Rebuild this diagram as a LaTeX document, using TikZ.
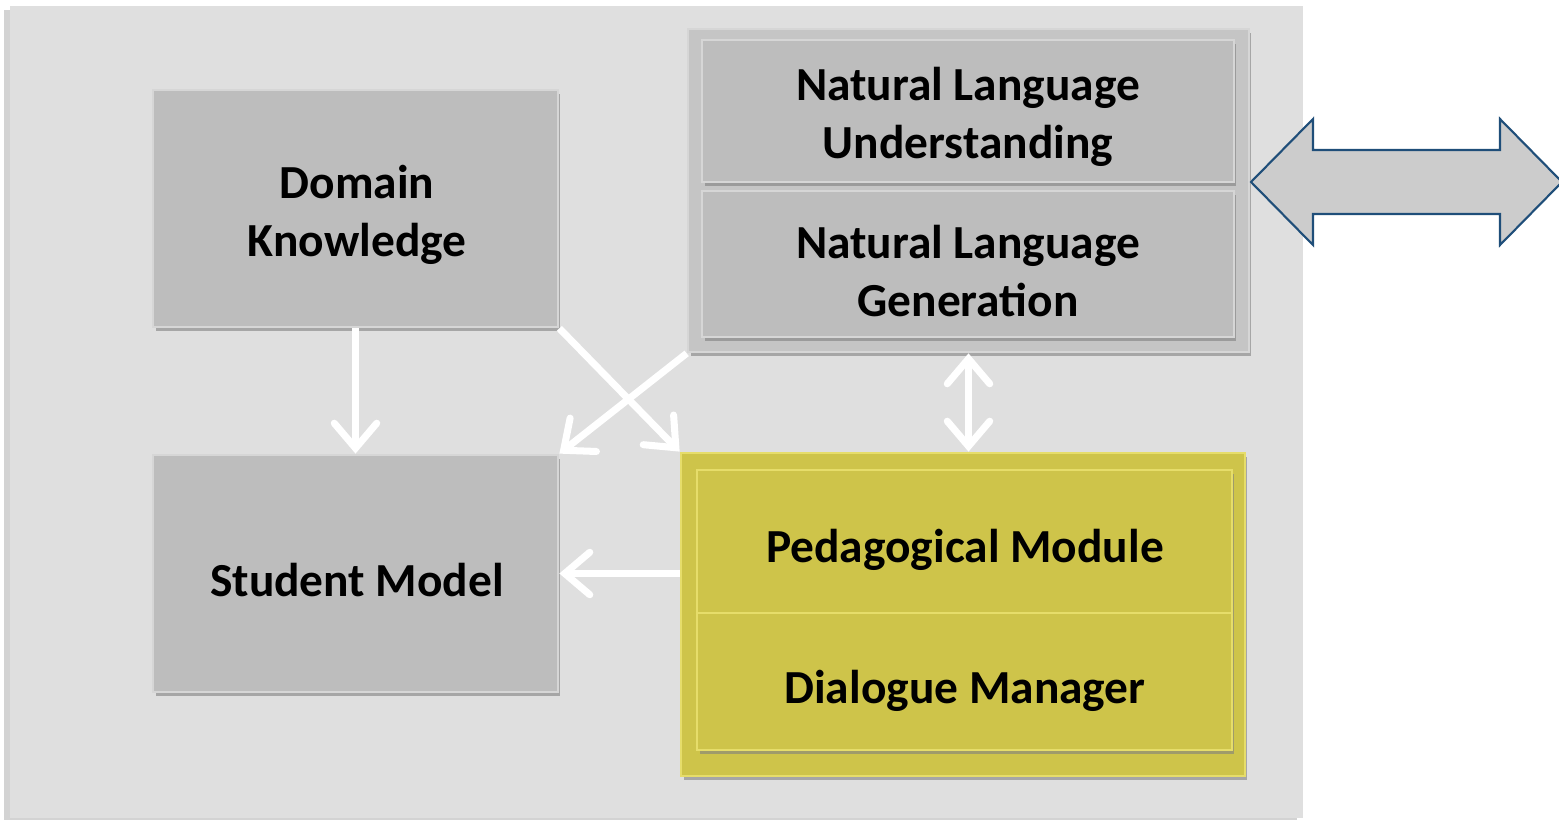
\documentclass[tikz,border=0pt]{standalone}
\usepackage{fontspec}
\setmainfont{Carlito}
\usetikzlibrary{arrows.meta,shadows}
\definecolor{panelgray}{HTML}{DFDFDF}
\definecolor{boxgray}{HTML}{BDBDBD}
\definecolor{boxedge}{HTML}{D6D6D6}
\definecolor{yellowbox}{HTML}{CEC44A}
\definecolor{yellowedge}{HTML}{E6DD6A}
\definecolor{arrowblue}{HTML}{1F4E79}
\definecolor{arrowfill}{HTML}{CCCCCC}
\begin{document}
\begin{tikzpicture}[x=0.02cm, y=-0.02cm,
    slab/.style={draw=boxedge, line width=1.6pt, fill=boxgray,
        drop shadow={shadow xshift=0.05cm, shadow yshift=-0.08cm, opacity=0.6}},
    yslab/.style={slab, draw=yellowedge, fill=yellowbox},
    label/.style={font=\fontsize{27}{33}\selectfont\bfseries, align=center, text=black},
    barb/.tip={Straight Barb[length=0.5cm, width=0.85cm, line cap=round]},
    flow/.style={draw=white, line width=4pt, -barb}]
    \useasboundingbox (0,0) rectangle (1559,820);
    % background panel
    \fill[panelgray, drop shadow={shadow xshift=-0.12cm, shadow yshift=-0.08cm, opacity=0.35}]
        (10,6) rectangle (1303,818);
    % left column
    \node[slab, minimum width=8.1cm, minimum height=4.74cm] (dk) at (355.5,208.5) {};
    \node[label] at (357,215) {Domain\\Knowledge};
    \node[slab, minimum width=8.1cm, minimum height=4.74cm] (sm) at (355.5,573.5) {};
    \node[label] at (357,580) {Student Model};
    % natural language part
    \node[slab, fill=boxgray!75!panelgray, minimum width=11.22cm, minimum height=6.46cm] (nlpanel) at (968.5,190.5) {};
    \node[slab, minimum width=10.64cm, minimum height=2.84cm] (nlu) at (968,111) {};
    \node[label] at (968,117) {Natural Language\\Understanding};
    \node[slab, minimum width=10.64cm, minimum height=2.92cm] (nlg) at (968,264) {};
    \node[label] at (968,271) {Natural Language\\Generation};
    % pedagogical part
    \node[yslab, minimum width=11.28cm, minimum height=6.46cm] (pedpanel) at (963,614.5) {};
    \node[yslab, minimum width=10.7cm, minimum height=2.86cm] (ped) at (964.5,541.5) {};
    \node[label] at (965,550) {Pedagogical Module};
    \node[yslab, minimum width=10.7cm, minimum height=2.74cm] (dm) at (964.5,681.5) {};
    \node[label] at (965,691) {Dialogue Manager};
    % arrows
    \draw[flow] (dk.south) -- (sm.north);
    \draw[flow] (dk.south east) -- (pedpanel.north west);
    \draw[flow] (nlpanel.south west) -- (sm.north east);
    \draw[flow, barb-barb] (nlpanel.south) -- (nlpanel.south |- pedpanel.north);
    \draw[flow] (pedpanel.west |- sm) -- (sm.east);
    % outside link
    \draw[arrowblue, fill=arrowfill, line width=1.2pt, line join=miter]
        (1251,182) -- (1313,119) -- (1313,150) -- (1500,150) -- (1500,119)
        -- (1562,182) -- (1500,245) -- (1500,214) -- (1313,214) -- (1313,245) -- cycle;
\end{tikzpicture}
\end{document}
